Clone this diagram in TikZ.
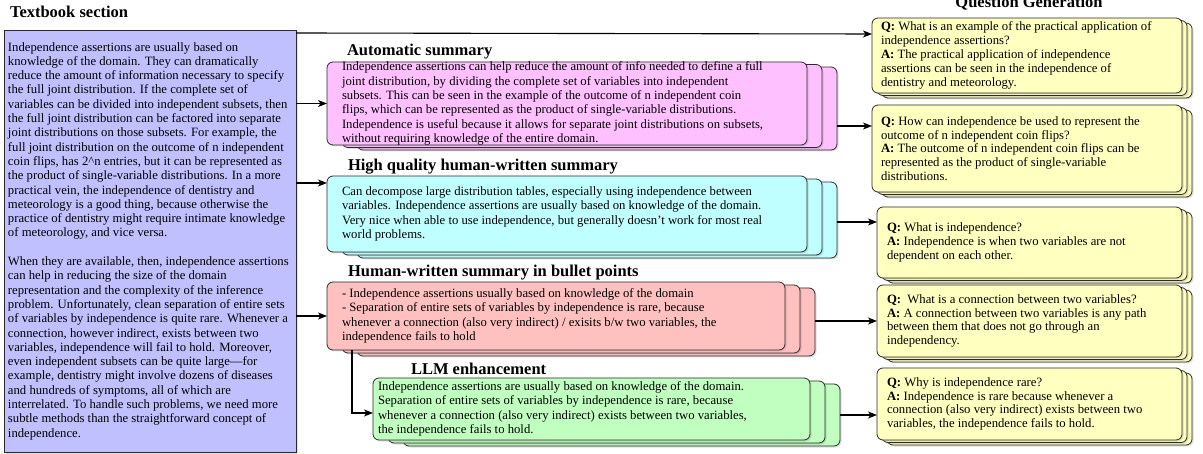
\documentclass[tikz,border=0pt]{standalone}
\usepackage{fontspec}
\setmainfont{Liberation Serif}
\usetikzlibrary{arrows.meta,calc,shadows}
\definecolor{tbblue}{HTML}{C0C0FF}
\definecolor{pinkc}{HTML}{FFC0FF}
\definecolor{cyanc}{HTML}{C0FFFF}
\definecolor{redc}{HTML}{FFC0C0}
\definecolor{greenc}{HTML}{C0FFC0}
\definecolor{yelc}{HTML}{FFFFC0}
\definecolor{edgec}{HTML}{2B2B2B}
\begin{document}
\begin{tikzpicture}[x=1pt,y=-1pt,
  every node/.style={outer sep=0pt},
  shd/.style={drop shadow={shadow xshift=1.5pt,shadow yshift=-1.5pt,opacity=0.25}},
  boxbase/.style={draw=edgec,line width=0.8pt,anchor=north west,inner sep=0pt,shd},
  rbox/.style={boxbase,rounded corners=6pt},
  body/.style={align=left,inner sep=0pt,anchor=west,font=\fontsize{12.7}{14.3}\selectfont},
  qbody/.style={align=left,inner sep=0pt,anchor=west,font=\fontsize{12.7}{13.8}\selectfont},
  ttl/.style={font=\fontsize{16.5}{18}\selectfont\bfseries,anchor=base west,inner sep=0pt},
  arr/.style={draw=black,line width=1.1pt,-{Stealth[length=9pt,width=7pt,inset=2.5pt]}}
]
\useasboundingbox (0,0) rectangle (1203,454);

% ---------- titles
\node[ttl] (ttb) at (10,18) {Textbook section};
\node[ttl,anchor=base] (tqg) at (1029,8) {Question Generation};
\node[ttl] (tas) at (347,56) {Automatic summary};
\node[ttl] (ths) at (348,171) {High quality human-written summary};
\node[ttl] (tbp) at (348,277) {Human-written summary in bullet points};
\node[ttl] (tllm) at (411,375) {LLM enhancement};

% ---------- textbook section
\node[boxbase,fill=tbblue,minimum width=292pt,minimum height=422pt] (tb) at (4,30) {};
\node[body] (tbt) at ($(tb.west)+(4,0)$) {Independence assertions are usually based on\\
knowledge of the domain. They can dramatically\\
reduce the amount of information necessary to specify\\
the full joint distribution. If the complete set of\\
variables can be divided into independent subsets, then\\
the full joint distribution can be factored into separate\\
joint distributions on those subsets. For example, the\\
full joint distribution on the outcome of n independent\\
coin flips, has 2\textasciicircum n entries, but it can be represented as\\
the product of single-variable distributions. In a more\\
practical vein, the independence of dentistry and\\
meteorology is a good thing, because otherwise the\\
practice of dentistry might require intimate knowledge\\
of meteorology, and vice versa.\\
\strut\\
When they are available, then, independence assertions\\
can help in reducing the size of the domain\\
representation and the complexity of the inference\\
problem. Unfortunately, clean separation of entire sets\\
of variables by independence is quite rare. Whenever a\\
connection, however indirect, exists between two\\
variables, independence will fail to hold. Moreover,\\
even independent subsets can be quite large—for\\
example, dentistry might involve dozens of diseases\\
and hundreds of symptoms, all of which are\\
interrelated. To handle such problems, we need more\\
subtle methods than the straightforward concept of\\
independence.};

% ---------- automatic summary (pink)
\node[rbox,fill=pinkc,minimum width=480pt,minimum height=83pt] (pinkB2) at (357,67) {};
\node[rbox,fill=pinkc,minimum width=480pt,minimum height=83pt] (pinkB1) at (342,64.5) {};
\node[rbox,fill=pinkc,minimum width=480pt,minimum height=83pt] (pink) at (327,62) {};
\node[body] (pinkt) at ($(pink.west)+(15,0)$) {Independence assertions can help reduce the amount of info needed to define a full\\
joint distribution, by dividing the complete set of variables into independent\\
subsets. This can be seen in the example of the outcome of n independent coin\\
flips, which can be represented as the product of single-variable distributions.\\
Independence is useful because it allows for separate joint distributions on subsets,\\
without requiring knowledge of the entire domain.};

% ---------- high quality summary (cyan)
\node[rbox,fill=cyanc,minimum width=480pt,minimum height=76pt] (cyanB2) at (357,182) {};
\node[rbox,fill=cyanc,minimum width=480pt,minimum height=76pt] (cyanB1) at (342,179) {};
\node[rbox,fill=cyanc,minimum width=480pt,minimum height=76pt] (cyan) at (327,176) {};
\node[body] (cyant) at ($(cyan.west)+(15,0)$) {Can decompose large distribution tables, especially using independence between\\
variables. Independence assertions are usually based on knowledge of the domain.\\
Very nice when able to use independence, but generally doesn't work for most real\\
world problems.};

% ---------- bullet summary (red)
\node[rbox,fill=redc,minimum width=458pt,minimum height=68pt] (redB2) at (357,288) {};
\node[rbox,fill=redc,minimum width=458pt,minimum height=68pt] (redB1) at (342,285) {};
\node[rbox,fill=redc,minimum width=458pt,minimum height=68pt] (red) at (327,282) {};
\node[body] (redt) at ($(red.west)+(15,0)$) {- Independence assertions usually based on knowledge of the domain\\
- Separation of entire sets of variables by independence is rare, because\\
whenever a connection (also very indirect) / exisits b/w two variables, the\\
independence fails to hold};

% ---------- LLM enhancement (green)
\node[rbox,fill=greenc,minimum width=437pt,minimum height=62pt] (greenB2) at (403,384) {};
\node[rbox,fill=greenc,minimum width=437pt,minimum height=62pt] (greenB1) at (388,381) {};
\node[rbox,fill=greenc,minimum width=437pt,minimum height=62pt] (green) at (373,378) {};
\node[body] (greent) at ($(green.west)+(5,0)$) {Independence assertions are usually based on knowledge of the domain.\\
Separation of entire sets of variables by independence is rare, because\\
whenever a connection (also very indirect) exists between two variables,\\
the independence fails to hold.};

% ---------- question boxes (yellow)
\node[rbox,fill=yelc,minimum width=310pt,minimum height=75pt] (q1B2) at (882,23) {};
\node[rbox,fill=yelc,minimum width=310pt,minimum height=75pt] (q1B1) at (877,20.5) {};
\node[rbox,fill=yelc,minimum width=310pt,minimum height=75pt] (q1) at (872,18) {};
\node[qbody] (q1t) at ($(q1.west)+(9,0)$) {\textbf{Q:} What is an example of the practical application of\\
independence assertions?\\
\textbf{A:} The practical application of independence\\
assertions can be seen in the independence of\\
dentistry and meteorology.};

\node[rbox,fill=yelc,minimum width=310pt,minimum height=87pt] (q2B2) at (882,110) {};
\node[rbox,fill=yelc,minimum width=310pt,minimum height=87pt] (q2B1) at (877,107.5) {};
\node[rbox,fill=yelc,minimum width=310pt,minimum height=87pt] (q2) at (872,105) {};
\node[qbody] (q2t) at ($(q2.west)+(9,0)$) {\textbf{Q:} How can independence be used to represent the\\
outcome of n independent coin flips?\\
\textbf{A:} The outcome of n independent coin flips can be\\
represented as the product of single-variable\\
distributions.};

\node[rbox,fill=yelc,minimum width=305pt,minimum height=71pt] (q3B2) at (887,212) {};
\node[rbox,fill=yelc,minimum width=305pt,minimum height=71pt] (q3B1) at (882,209.5) {};
\node[rbox,fill=yelc,minimum width=305pt,minimum height=71pt] (q3) at (877,207) {};
\node[qbody] (q3t) at ($(q3.west)+(10,0)$) {\textbf{Q:} What is independence?\\
\textbf{A:} Independence is when two variables are not\\
dependent on each other.};

\node[rbox,fill=yelc,minimum width=305pt,minimum height=72pt] (q4B2) at (887,290) {};
\node[rbox,fill=yelc,minimum width=305pt,minimum height=72pt] (q4B1) at (882,287.5) {};
\node[rbox,fill=yelc,minimum width=305pt,minimum height=72pt] (q4) at (877,285) {};
\node[qbody] (q4t) at ($(q4.west)+(10,0)$) {\textbf{Q:}\ \ What is a connection between two variables?\\
\textbf{A:} A connection between two variables is any path\\
between them that does not go through an\\
independency.};

\node[rbox,fill=yelc,minimum width=305pt,minimum height=72pt] (q5B2) at (887,373) {};
\node[rbox,fill=yelc,minimum width=305pt,minimum height=72pt] (q5B1) at (882,370.5) {};
\node[rbox,fill=yelc,minimum width=305pt,minimum height=72pt] (q5) at (877,368) {};
\node[qbody] (q5t) at ($(q5.west)+(10,0)$) {\textbf{Q:} Why is independence rare?\\
\textbf{A:} Independence is rare because whenever a\\
connection (also very indirect) exists between two\\
variables, the independence fails to hold.};

% ---------- connectors
\coordinate (q1in) at ($(q1.north west)+(0,16)$);
\coordinate (q2in) at ($(q2.north west)+(0,21)$);
\coordinate (q3in) at ($(q3.north west)+(0,15)$);
\coordinate (q5in) at ($(q5.north west)+(0,47)$);
\coordinate (cyanin) at ($(cyan.north west)+(0,7)$);
\coordinate (greenin) at ($(green.north west)+(0,35)$);
\coordinate (redout) at ($(red.south west)+(25,0)$);

\draw[arr] ($(tb.north east)+(0,3)$) -- (q1in);
\draw[arr] (tb.east |- pink.west) -- (pink.west);
\draw[arr] (tb.east |- cyanin) -- (cyanin);
\draw[arr] (tb.east |- red.west) -- (red.west);
\draw[arr] (pinkB2.east |- q2in) -- (q2in);
\draw[arr] (cyanB2.east |- q3in) -- (q3in);
\draw[arr] (redB2.east |- q4.west) -- (q4.west);
\draw[arr] (redout) |- (greenin);
\draw[arr] (greenB2.east |- q5in) -- (q5in);
\end{tikzpicture}
\end{document}
